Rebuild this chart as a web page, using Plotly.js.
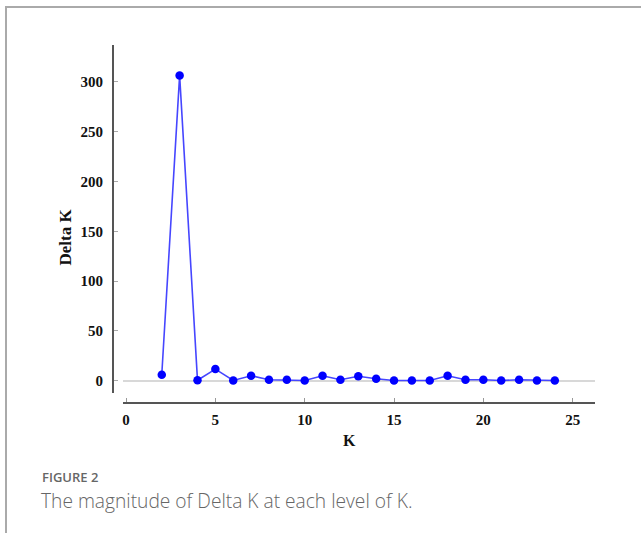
<!DOCTYPE html>
<html>
<head>
<meta charset="utf-8">
<script src="https://cdn.plot.ly/plotly-3.0.1.min.js"></script>
<style>
html,body{margin:0;padding:0;background:#fff;}
#chart{width:641px;height:533px;}
</style>
</head>
<body>
<div id="chart"></div>
<script>
const kValues = [2,3,4,5,6,7,8,9,10,11,12,13,14,15,16,17,18,19,20,21,22,23,24];
const deltaK = [6,306.5,0.5,11.7,0.3,5,1,1,0.3,5,1,4.5,2,0.3,0.3,0.3,5,1,1,0.3,1,0.3,0.3];
const xTicks = [0,5,10,15,20,25];
const yTicks = [0,50,100,150,200,250,300];
const xTitle = "K";
const yTitle = "Delta K";
const captionLabel = "FIGURE 2";
const captionText = "The magnitude of Delta K at each level of K.";

const W = 483, H = 358;
const px = p => (p - 112) / W;
const py = p => (403 - p) / H;

const serif = "Liberation Serif, Times New Roman, serif";

const trace = {
  x: kValues, y: deltaK, type: 'scatter', mode: 'lines+markers',
  line: {color: 'rgb(70,70,255)', width: 1.6},
  marker: {color: '#0000ff', size: 8.5},
  hoverinfo: 'x+y', showlegend: false
};

const layout = {
  width: 641, height: 533,
  margin: {l: 112, r: 46, t: 45, b: 130},
  paper_bgcolor: '#fff', plot_bgcolor: '#fff',
  showlegend: false,
  xaxis: {
    domain: [11 / W, 1], anchor: 'free', position: 0,
    range: [-0.17, 26.25],
    tickvals: xTicks, ticktext: xTicks.map(String),
    ticks: 'inside', ticklen: 4, tickcolor: '#999', tickwidth: 1,
    showline: true, linecolor: '#555', linewidth: 2,
    showgrid: false, zeroline: false,
    tickfont: {family: serif, size: 15, color: '#111', weight: 'bold'},
    ticklabelstandoff: 3
  },
  yaxis: {
    domain: [10 / H, 1], anchor: 'free', position: 0,
    range: [-12.3, 337],
    tickvals: yTicks, ticktext: yTicks.map(String),
    ticks: 'inside', ticklen: 4, tickcolor: '#aaa', tickwidth: 1,
    showline: true, linecolor: '#555', linewidth: 1.5,
    showgrid: false, zeroline: true, zerolinecolor: '#d8d8d8', zerolinewidth: 1.5,
    tickfont: {family: serif, size: 15, color: '#111', weight: 'bold'},
    ticklabelstandoff: 6
  },
  shapes: [
    {type: 'line', xref: 'paper', yref: 'paper', x0: px(5), x1: px(645), y0: py(7), y1: py(7), line: {color: '#aaa', width: 2}},
    {type: 'line', xref: 'paper', yref: 'paper', x0: px(6), x1: px(6), y0: py(6), y1: py(540), line: {color: '#aaa', width: 2}}
  ],
  annotations: [
    {text: yTitle, xref: 'paper', yref: 'paper', x: px(64.5), y: py(237), xanchor: 'center', yanchor: 'middle', textangle: -90, showarrow: false,
     font: {family: serif, size: 17, color: '#111', weight: 'bold'}},
    {text: xTitle, xref: 'paper', yref: 'paper', x: px(349), y: py(440), xanchor: 'center', yanchor: 'middle', showarrow: false,
     font: {family: serif, size: 16, color: '#111', weight: 'bold'}},
    {text: captionLabel, xref: 'paper', yref: 'paper', x: px(40), y: py(477), xanchor: 'left', yanchor: 'middle', showarrow: false,
     font: {family: 'Open Sans, sans-serif', size: 13, color: '#666', weight: 600}},
    {text: captionText, xref: 'paper', yref: 'paper', x: px(39), y: py(500), xanchor: 'left', yanchor: 'middle', showarrow: false,
     font: {family: 'Open Sans, sans-serif', size: 19.2, color: '#666', weight: 300}}
  ]
};

Plotly.newPlot('chart', [trace], layout, {displayModeBar: false, staticPlot: true});
</script>
</body>
</html>
